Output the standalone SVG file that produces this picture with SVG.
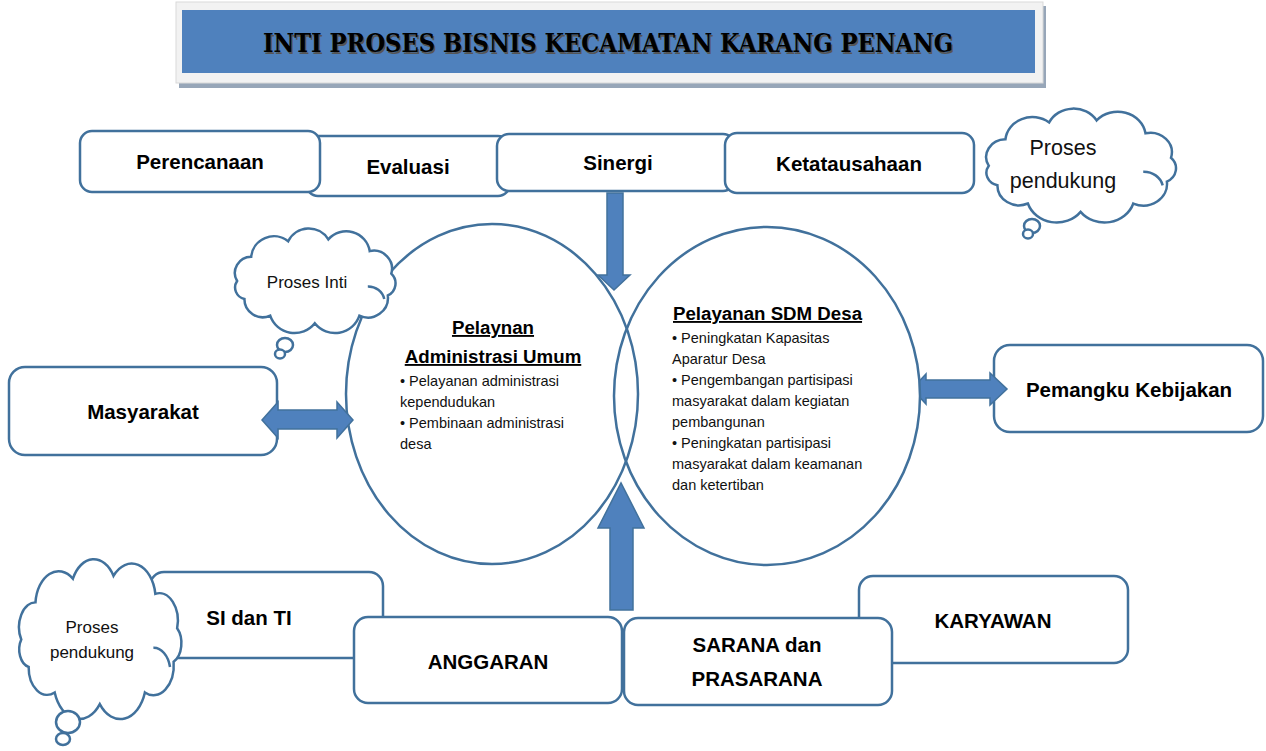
<svg xmlns="http://www.w3.org/2000/svg" xmlns:xlink="http://www.w3.org/1999/xlink" width="1266" height="751" viewBox="0 0 1266 751">
<style>
.box{fill:#fff;stroke:#41719C;stroke-width:2.5}
.lbl{font-family:"Liberation Sans",Arial,sans-serif;font-weight:bold;font-size:20.5px;fill:#000;text-anchor:middle}
.cl{fill:#fff;stroke:#41719C;stroke-width:2.5}
.cin{fill:none;stroke:#41719C;stroke-width:2.5}
.ct{font-family:"Liberation Sans",Arial,sans-serif;fill:#111;text-anchor:middle}
.ell{stroke:#41719C;stroke-width:2.5}
.arr{fill:#4F81BD;stroke:#41719C;stroke-width:1.5}
.hd{font-family:"Liberation Sans",Arial,sans-serif;font-weight:bold;font-size:18.7px;fill:#000;text-decoration:underline}
.bt{font-family:"Liberation Sans",Arial,sans-serif;font-size:14.5px;fill:#111}
</style>
<defs>
<path id="cloud" vector-effect="non-scaling-stroke" d="M15,60 A18,18 0 0 1 30.4,33 A25,25 0 0 1 70.9,15.8 A25,25 0 0 1 114.8,13.7 A26,26 0 0 1 160.1,26.8 A20,20 0 0 1 183.7,51.8 A15,15 0 0 1 179.9,76.1 A22,22 0 0 1 148.8,98.5 A28,28 0 0 1 100,107 A28,28 0 0 1 51.2,98.5 A20,20 0 0 1 23,79.9 A13,13 0 0 1 15,60 Z"/>
<path id="cloudin" vector-effect="non-scaling-stroke" d="M158,66 A18,18 0 0 1 176,80"/>
</defs>
<rect width="1266" height="751" fill="#fff"/>

<g id="title">
<rect x="179" y="6" width="867" height="82" fill="#97A6B8"/>
<rect x="176" y="2" width="867" height="81" fill="#F2F2F2" stroke="#D9D9D9" stroke-width="1"/>
<rect x="182" y="10" width="853" height="63" fill="#4F81BD"/>
<text x="609.5" y="53.5" font-family="'DejaVu Serif','Liberation Serif',serif" font-weight="bold" font-size="26" fill="#555" text-anchor="middle" textLength="690" lengthAdjust="spacingAndGlyphs">INTI PROSES BISNIS KECAMATAN KARANG PENANG</text>
<text x="608" y="52" font-family="'DejaVu Serif','Liberation Serif',serif" font-weight="bold" font-size="26" fill="#000" text-anchor="middle" textLength="690" lengthAdjust="spacingAndGlyphs">INTI PROSES BISNIS KECAMATAN KARANG PENANG</text>
</g>

<g id="evaluasi"><rect class="box" x="306" y="136" width="204" height="60" rx="12"/><text class="lbl" x="408" y="174">Evaluasi</text></g>
<g id="perencanaan"><rect class="box" x="80" y="131" width="240" height="61" rx="12"/><text class="lbl" x="200" y="169">Perencanaan</text></g>
<g id="sinergi"><rect class="box" x="497" y="134" width="238" height="57" rx="12"/><text class="lbl" x="618" y="170">Sinergi</text></g>
<g id="ketatausahaan"><rect class="box" x="725" y="133" width="249" height="60" rx="12"/><text class="lbl" x="849" y="171">Ketatausahaan</text></g>

<g id="cloud-top">
<use xlink:href="#cloud" class="cl" transform="translate(972.6,107) scale(1.08,0.98)"/>
<use xlink:href="#cloudin" class="cin" transform="translate(972.6,107) scale(1.08,0.98)"/>
<ellipse class="cl" cx="1032" cy="226" rx="8" ry="7"/>
<ellipse class="cl" cx="1028" cy="234" rx="5" ry="4.5"/>
<text class="ct" x="1063" y="155" font-size="21.5">Proses</text>
<text class="ct" x="1063" y="188" font-size="21.5">pendukung</text>
</g>

<g id="masyarakat"><rect class="box" x="9" y="367" width="268" height="88" rx="16"/><text class="lbl" x="143" y="419">Masyarakat</text></g>
<g id="pemangku"><rect class="box" x="994" y="345" width="269" height="87" rx="16"/><text class="lbl" x="1129" y="397">Pemangku Kebijakan</text></g>

<g id="connectors-back">
<polygon class="arr" points="912,389 926,374 926,380 990,380 990,373 1007,389 990,405 990,398 926,398 926,404"/>
</g>

<g id="sdm-desa">
<ellipse class="ell" cx="767" cy="396" rx="153" ry="169" fill="#fff"/>
<text class="hd" x="673" y="320">Pelayanan SDM Desa</text>
<text class="bt" x="672" y="343">• Peningkatan Kapasitas</text>
<text class="bt" x="672" y="364">Aparatur Desa</text>
<text class="bt" x="672" y="385">• Pengembangan partisipasi</text>
<text class="bt" x="672" y="406">masyarakat dalam kegiatan</text>
<text class="bt" x="672" y="427">pembangunan</text>
<text class="bt" x="672" y="448">• Peningkatan partisipasi</text>
<text class="bt" x="672" y="469">masyarakat dalam keamanan</text>
<text class="bt" x="672" y="490">dan ketertiban</text>
</g>

<g id="admin-umum">
<ellipse class="ell" cx="492" cy="394" rx="146" ry="170" fill="none"/>
<text class="hd" x="493" y="334" text-anchor="middle">Pelaynan</text>
<text class="hd" x="493" y="363" text-anchor="middle">Administrasi Umum</text>
<text class="bt" x="400" y="386">• Pelayanan administrasi</text>
<text class="bt" x="400" y="407">kependudukan</text>
<text class="bt" x="400" y="428">• Pembinaan administrasi</text>
<text class="bt" x="400" y="449">desa</text>
</g>

<g id="cloud-inti">
<use xlink:href="#cloud" class="cl" transform="translate(223.4,227) scale(0.914,0.9)"/>
<use xlink:href="#cloudin" class="cin" transform="translate(223.4,227) scale(0.914,0.9)"/>
<ellipse class="cl" cx="285" cy="345" rx="8" ry="7"/>
<ellipse class="cl" cx="280" cy="354" rx="5" ry="4.5"/>
<text class="ct" x="307" y="288" font-size="17">Proses Inti</text>
</g>

<g id="si-ti"><rect class="box" x="150" y="572" width="233" height="86" rx="14"/><text class="lbl" x="249" y="625">SI dan TI</text></g>
<g id="karyawan"><rect class="box" x="859" y="576" width="269" height="87" rx="14"/><text class="lbl" x="993" y="628">KARYAWAN</text></g>
<g id="anggaran"><rect class="box" x="354" y="617" width="268" height="86" rx="14"/><text class="lbl" x="488" y="669">ANGGARAN</text></g>
<g id="sarana"><rect class="box" x="624" y="618" width="268" height="87" rx="14"/><text class="lbl" x="757" y="652">SARANA dan</text><text class="lbl" x="757" y="686">PRASARANA</text></g>

<g id="cloud-bottom">
<use xlink:href="#cloud" class="cl" transform="translate(7.4,557) scale(0.924,1.375)"/>
<use xlink:href="#cloudin" class="cin" transform="translate(7.4,557) scale(0.924,1.375)"/>
<ellipse class="cl" cx="68" cy="722" rx="12" ry="11"/>
<ellipse class="cl" cx="63" cy="739" rx="7" ry="6"/>
<text class="ct" x="92" y="633" font-size="17">Proses</text>
<text class="ct" x="92" y="658" font-size="17">pendukung</text>
</g>

<g id="connectors">
<polygon class="arr" points="607,193 623,193 623,275 630,275 614,290 598,275 607,275"/>
<polygon class="arr" points="610,610 633,610 633,528 644,528 621,483 598,528 610,528"/>
<polygon class="arr" points="262,420 278,402 278,410 337,410 337,402 353,420 337,438 337,429 278,429 278,438"/>
</g>
</svg>
